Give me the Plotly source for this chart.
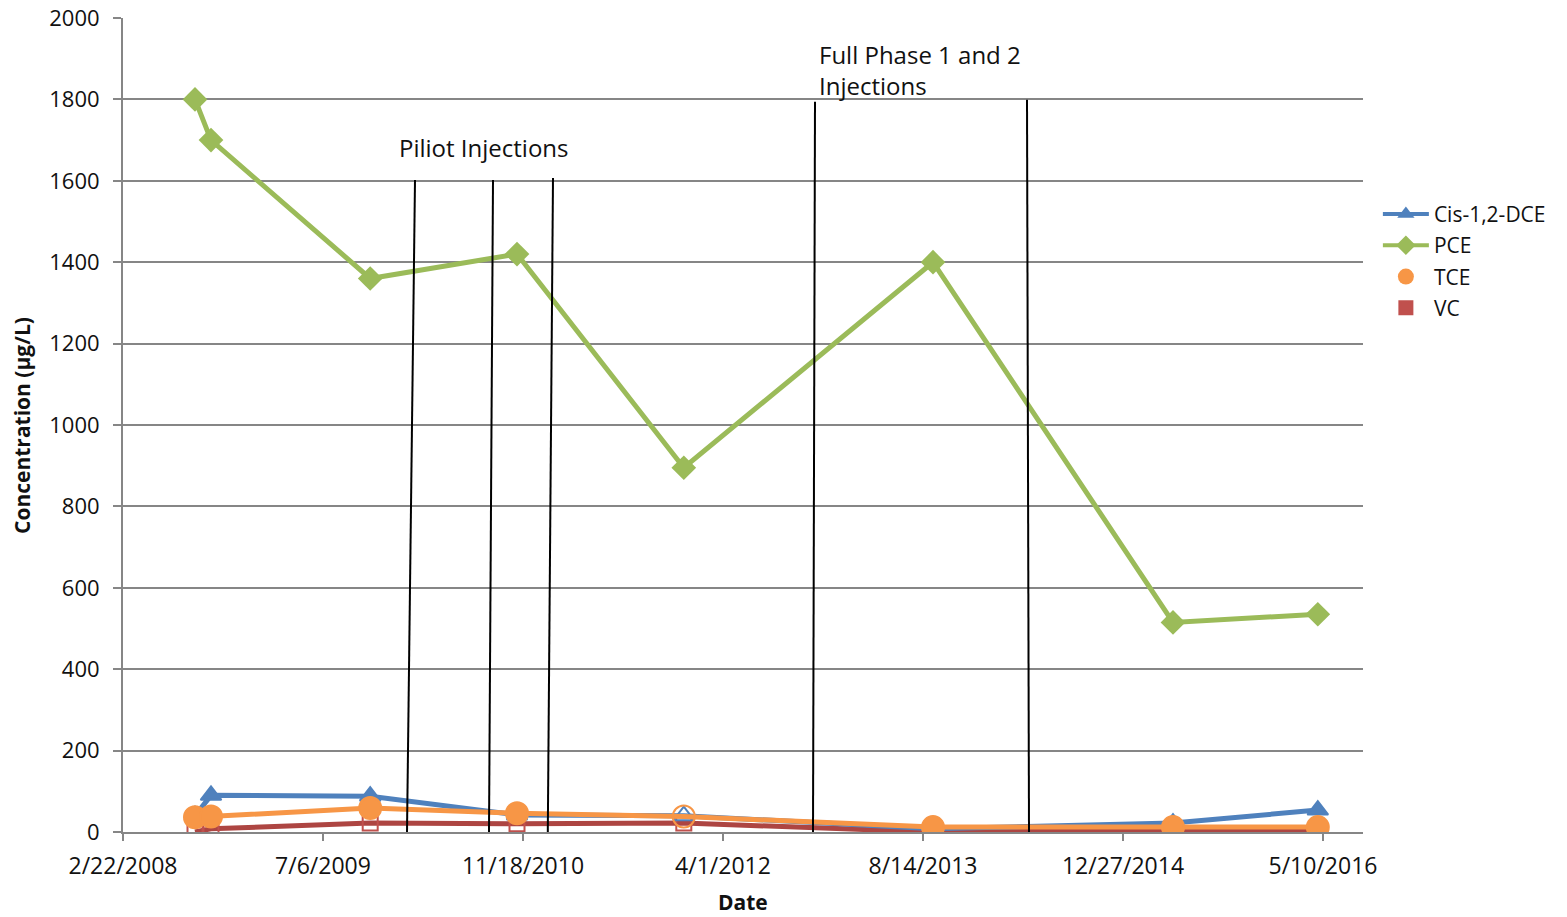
import plotly.graph_objects as go

# ---- data ----
dates = ["2008-08-20", "2008-09-29", "2009-11-01", "2010-11-03",
         "2011-12-25", "2013-09-08", "2015-05-01", "2016-04-27"]
pce = [1800, 1700, 1360, 1420, 895, 1400, 515, 535]
dce = [40, 90, 88, 42, 40, 8, 22, 54]
tce = [36, 38, 59, 46, 38, 12, 12, 12]
vc = [0, 8, 22, 20, 22, 0, 5, 5]
tce_symbols = ["circle", "circle", "circle", "circle", "circle-open", "circle", "circle", "circle"]
dce_symbols = ["triangle-up", "triangle-up", "triangle-up", "triangle-up", "triangle-up-open",
               "triangle-up-open", "triangle-up", "triangle-up"]

tick_dates = ["2008-02-22", "2009-07-06", "2010-11-18", "2012-04-01",
              "2013-08-14", "2014-12-27", "2016-05-10"]
tick_labels = ["2/22/2008", "7/6/2009", "11/18/2010", "4/1/2012",
               "8/14/2013", "12/27/2014", "5/10/2016"]
x_range = ["2008-02-22", "2016-08-18"]

# injection marker lines (drawn, slightly slanted): (x_top, y_top, x_bottom, y_bottom)
inj_top_x = ["2010-02-21", "2010-09-04", "2011-02-01", "2012-11-17", "2014-05-01"]
inj_top_y = [1602, 1602, 1607, 1794, 1799]
inj_bot_x = ["2010-02-01", "2010-08-25", "2011-01-19", "2012-11-12", "2014-05-06"]
inj_bot_y = [0, 0, 0, 0, 0]

BLUE = "#4F81BD"
GREEN = "#9BBB59"
ORANGE = "#F79646"
RED = "#C0504D"
FONT = "Open Sans"
TXT = "#111"

fig = go.Figure()

fig.add_trace(go.Scatter(x=dates, y=vc, mode="lines+markers", showlegend=False,
                         line=dict(color="#AD4542", width=5),
                         marker=dict(symbol="square-open", size=15, color=RED,
                                     line=dict(width=2, color=RED))))
fig.add_trace(go.Scatter(x=dates, y=dce, mode="lines+markers", showlegend=False,
                         line=dict(color=BLUE, width=5),
                         marker=dict(symbol=dce_symbols, size=18, color=BLUE,
                                     line=dict(width=2, color=BLUE))))
fig.add_trace(go.Scatter(x=dates, y=tce, mode="lines+markers", showlegend=False,
                         line=dict(color=ORANGE, width=5),
                         marker=dict(symbol=tce_symbols, size=22, color=ORANGE,
                                     line=dict(width=2, color=ORANGE))))
fig.add_trace(go.Scatter(x=dates, y=pce, mode="lines+markers", showlegend=False,
                         line=dict(color=GREEN, width=5),
                         marker=dict(symbol="diamond", size=19, color=GREEN)))

# legend entries
fig.add_trace(go.Scatter(x=[None], y=[None], mode="lines+markers", name="Cis-1,2-DCE",
                         legendgroup="a", line=dict(color=BLUE, width=4),
                         marker=dict(symbol="triangle-up", size=15, color=BLUE)))
fig.add_trace(go.Scatter(x=[None], y=[None], mode="lines+markers", name="PCE",
                         legendgroup="b", line=dict(color=GREEN, width=4),
                         marker=dict(symbol="diamond", size=15, color=GREEN)))
fig.add_trace(go.Scatter(x=[None], y=[None], mode="markers", name="TCE",
                         legendgroup="c", marker=dict(symbol="circle", size=17, color=ORANGE)))
fig.add_trace(go.Scatter(x=[None], y=[None], mode="markers", name="VC",
                         legendgroup="d", marker=dict(symbol="square", size=15, color=RED)))

for xt, yt, xb, yb in zip(inj_top_x, inj_top_y, inj_bot_x, inj_bot_y):
    fig.add_shape(type="line", xref="x", yref="y", x0=xt, y0=yt, x1=xb, y1=yb,
                  line=dict(color="black", width=2))

fig.add_annotation(x="2010-08-12", y=1683, xref="x", yref="y", text="Piliot Injections",
                   showarrow=False, font=dict(family=FONT, size=24, color=TXT),
                   xanchor="center", yanchor="middle")
fig.add_annotation(x="2012-11-22", y=1872, xref="x", yref="y",
                   text="Full Phase 1 and 2<br>Injections",
                   showarrow=False, font=dict(family=FONT, size=24, color=TXT),
                   xanchor="left", yanchor="middle", align="left")

# axis titles
fig.add_annotation(x=0.5, y=-0.0865, xref="paper", yref="paper", text="<b>Date</b>",
                   showarrow=False, font=dict(family=FONT, size=21, color=TXT),
                   xanchor="center", yanchor="middle")
fig.add_annotation(x=-0.0815, y=0.5, xref="paper", yref="paper",
                   text="<b>Concentration (µg/L)</b>", textangle=-90,
                   showarrow=False, font=dict(family=FONT, size=21, color=TXT),
                   xanchor="center", yanchor="middle")

fig.update_layout(
    width=1567, height=917,
    margin=dict(l=123, r=204, t=18, b=85),
    paper_bgcolor="white", plot_bgcolor="white",
    font=dict(family=FONT, size=18, color=TXT),
    legend=dict(x=1.012, y=0.784, xanchor="left", yanchor="top",
                font=dict(family=FONT, size=21, color=TXT), tracegroupgap=1,
                bgcolor="rgba(0,0,0,0)", itemwidth=46),
)
fig.update_xaxes(
    range=x_range, tickvals=tick_dates, ticktext=tick_labels,
    showgrid=False, showline=True, linecolor="#868686", linewidth=2,
    ticks="outside", tickcolor="#868686", ticklen=7, tickwidth=2,
    tickfont=dict(size=23, color=TXT), zeroline=False, automargin=False,
    ticklabeloverflow="allow", ticklabelstandoff=5,
)
fig.update_yaxes(
    range=[0, 2000], tickvals=list(range(0, 2001, 200)),
    showgrid=True, gridcolor="#868686", gridwidth=1.5,
    showline=True, linecolor="#868686", linewidth=2,
    ticks="outside", tickcolor="#868686", ticklen=8, tickwidth=2,
    tickfont=dict(size=22, color=TXT), zeroline=False, automargin=False,
    ticklabeloverflow="allow", ticklabelstandoff=9,
)

fig.write_html("out.html", config={"displayModeBar": False},
               post_script="document.body.style.margin='0';document.body.style.overflow='hidden';")
